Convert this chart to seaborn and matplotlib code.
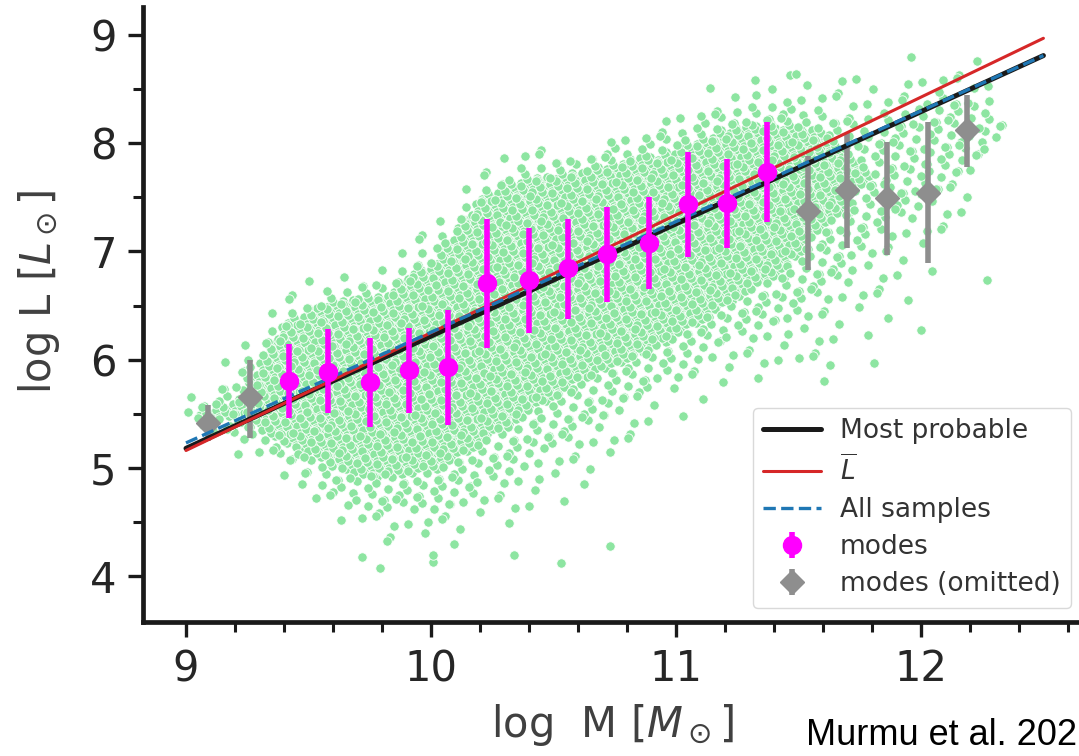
import numpy as np
import matplotlib
matplotlib.use('Agg')
import matplotlib.pyplot as plt
import seaborn as sns
from matplotlib.ticker import MultipleLocator

# posterior modes per mass bin (used in the fit)
mode_x = [9.42, 9.58, 9.75, 9.91, 10.07, 10.23, 10.40, 10.56, 10.72, 10.89, 11.05, 11.21, 11.37]
mode_y = [5.80, 5.89, 5.79, 5.90, 5.93, 6.71, 6.74, 6.85, 6.98, 7.08, 7.44, 7.45, 7.73]
mode_lo = [5.46, 5.51, 5.38, 5.51, 5.40, 6.11, 6.25, 6.38, 6.53, 6.65, 6.95, 7.03, 7.27]
mode_hi = [6.14, 6.28, 6.20, 6.29, 6.46, 7.30, 7.22, 7.30, 7.41, 7.50, 7.92, 7.85, 8.20]

# modes left out of the fit
omit_x = [9.09, 9.26, 11.54, 11.70, 11.86, 12.03, 12.19]
omit_y = [5.41, 5.65, 7.37, 7.57, 7.49, 7.54, 8.12]
omit_lo = [5.25, 5.28, 6.83, 7.03, 6.97, 6.89, 7.78]
omit_hi = [5.58, 6.00, 7.88, 8.09, 8.01, 8.20, 8.45]

# fitted relations
line_x = [9.0, 12.5]
most_probable = [5.18, 8.81]
l_bar = [5.16, 8.97]
all_samples = [5.23, 8.81]

# outline of the sample cloud (dense core + sparse halo)
cloud_x = [9.00, 9.20, 9.40, 9.60, 9.80, 10.00, 10.20, 10.40, 10.60, 10.80, 11.00, 11.20, 11.40, 11.60, 11.80, 12.00, 12.20, 12.35]
core_lo = [5.45, 5.45, 5.25, 5.00, 4.90, 4.95, 5.20, 5.50, 5.80, 6.00, 6.20, 6.50, 6.75, 7.20, 7.70, 8.00, 8.20, 8.20]
core_hi = [5.45, 5.60, 6.35, 6.55, 6.60, 6.90, 7.50, 7.70, 7.75, 7.85, 7.95, 8.15, 8.20, 8.10, 7.70, 8.00, 8.20, 8.20]
halo_lo = [5.30, 5.10, 4.85, 4.40, 4.15, 4.05, 4.15, 4.45, 4.60, 5.00, 5.40, 5.70, 5.60, 5.70, 6.20, 6.60, 7.20, 8.10]
halo_hi = [5.70, 6.20, 6.65, 6.80, 6.95, 7.35, 7.80, 8.00, 8.05, 8.20, 8.35, 8.50, 8.65, 8.75, 8.85, 8.90, 8.90, 8.30]
# isolated points
out_x = [9.02, 12.27, 12.00, 11.81, 11.63, 10.34, 10.53, 10.73, 9.79, 9.72, 10.01, 11.49, 11.14]
out_y = [5.65, 6.74, 6.27, 5.97, 5.95, 4.19, 4.12, 4.28, 4.07, 4.18, 4.19, 8.64, 8.51]


def r2(n, seed):
    # even (low discrepancy) pattern over the box holding the cloud
    k = np.arange(n)
    g = 1.324717957244746
    return 9.0 + 3.35 * ((seed + k / g) % 1), 4.0 + 5.0 * ((seed + k / g**2) % 1)


def band(x, y):
    # 0 inside the core, 0..1 across the halo, >1 outside
    clo = np.interp(x, cloud_x, core_lo)
    chi = np.interp(x, cloud_x, core_hi)
    hlo = np.interp(x, cloud_x, halo_lo)
    hhi = np.interp(x, cloud_x, halo_hi)
    t = np.zeros_like(x)
    t = np.where(y > chi, (y - chi) / np.maximum(hhi - chi, 1e-6), t)
    t = np.where(y < clo, (clo - y) / np.maximum(clo - hlo, 1e-6), t)
    return t


parts_x, parts_y = [], []
for n, seed, tmax in [(11000, 0.5, 0.0), (2600, 0.21, 0.4), (1100, 0.73, 0.75), (450, 0.37, 1.0)]:
    px, py = r2(n, seed)
    m = band(px, py) <= tmax
    parts_x.append(px[m])
    parts_y.append(py[m])
sx = np.concatenate(parts_x + [out_x])
sy = np.concatenate(parts_y + [out_y])

sns.set_style('ticks')
plt.rcParams['font.family'] = ['DejaVu Sans']

fig = plt.figure(figsize=(10.79, 7.56), dpi=100)
ax = fig.add_axes([143 / 1079, 1 - 622 / 756, (1100 - 143) / 1079, 615 / 756])

sns.scatterplot(x=sx, y=sy, color='#8de5a1', s=46, edgecolor='white',
                linewidth=0.6, legend=False, ax=ax, zorder=1)

om = ax.errorbar(omit_x, omit_y,
                 yerr=[np.subtract(omit_y, omit_lo), np.subtract(omit_hi, omit_y)],
                 fmt='D', color='#8e8e8e', ms=12, elinewidth=4, capsize=0,
                 label='modes (omitted)', zorder=2)
l1, = ax.plot(line_x, most_probable, color='#1a1a1a', lw=3.6, label='Most probable', zorder=3)
l2, = ax.plot(line_x, l_bar, color='#d62728', lw=2.2, label=r'$\overline{L}$', zorder=3)
l3, = ax.plot(line_x, all_samples, color='#1f77b4', lw=2.4, ls='--', label='All samples', zorder=3)
md = ax.errorbar(mode_x, mode_y,
                 yerr=[np.subtract(mode_y, mode_lo), np.subtract(mode_hi, mode_y)],
                 fmt='o', color='magenta', ms=13, elinewidth=4, capsize=0,
                 label='modes', zorder=4)

ax.set_xlim(8.8245, 12.731)
ax.set_ylim(3.575, 9.259)
ax.xaxis.set_major_locator(MultipleLocator(1))
ax.xaxis.set_minor_locator(MultipleLocator(0.2))
ax.yaxis.set_major_locator(MultipleLocator(1))
ax.yaxis.set_minor_locator(MultipleLocator(0.5))
sns.despine(ax=ax)
for s in ['left', 'bottom']:
    ax.spines[s].set_linewidth(3.4)
    ax.spines[s].set_color('#1a1a1a')
ax.tick_params(which='major', length=11, width=2.4, labelsize=30, pad=8,
               color='#1a1a1a', labelcolor='#262626')
ax.tick_params(which='minor', length=7, width=2.2, color='#1a1a1a')

ax.set_xlabel(r'log  M [$M_\odot$]', fontsize=30, color='#404040', labelpad=4)
ax.xaxis.set_label_coords(0.49, -0.13)
ax.set_ylabel(r'log L [$L_\odot$]', fontsize=30, color='#404040')
ax.yaxis.set_label_coords(-0.085, 0.537)

leg = ax.legend(handles=[l1, l2, l3, md, om], loc='lower right',
                bbox_to_anchor=(1071 / 1079, 1 - 608 / 756), bbox_transform=fig.transFigure,
                borderaxespad=0, fontsize=19, handlelength=2.2, handletextpad=0.7,
                labelspacing=0.42, framealpha=1, edgecolor='0.85')
for txt in leg.get_texts():
    txt.set_color('#333333')

fig.text(806 / 1079, 1 - 745 / 756, 'Murmu et al. 202', family=['Liberation Sans', 'DejaVu Sans'],
         fontsize=26, color='black', ha='left', va='baseline')

fig.savefig('out.png', dpi=100)
